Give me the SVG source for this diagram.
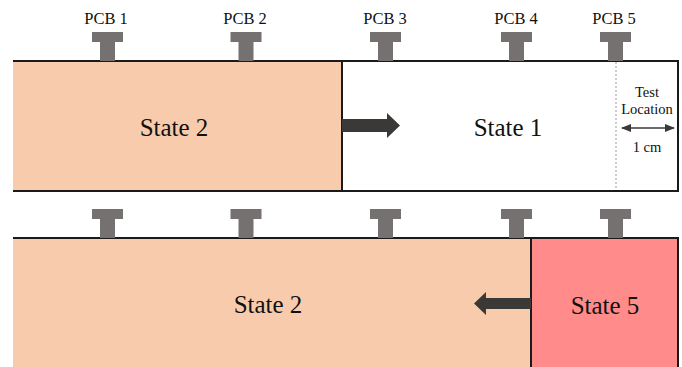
<svg xmlns="http://www.w3.org/2000/svg" width="682" height="367" viewBox="0 0 682 367">
<style>
.t{font-family:"Liberation Serif","Times New Roman",serif;fill:#111;text-anchor:middle}
.pcb{fill:#767171}
.edge{stroke:#1a1a1a;stroke-width:2;fill:none}
.big{font-size:25px}
.lbl{font-size:16.5px}
.sm{font-size:14.5px}
</style>
<defs>
<g id="tee"><path d="M-15.5 0H15.5V10H7.5V29H-7.5V10H-15.5Z"/></g>
<marker id="ah" viewBox="0 0 10 8" refX="9" refY="4" markerWidth="10" markerHeight="8" markerUnits="userSpaceOnUse" orient="auto-start-reverse"><path d="M0 0L10 4L0 8Z" fill="#3b3838"/></marker>
</defs>
<g id="top-panel">
<rect x="13" y="61" width="329" height="130" fill="#f8cbad"/>
<rect x="342" y="61" width="336" height="130" fill="#ffffff"/>
<path class="edge" d="M13 61H678V191H13M342 61V191"/>
<line x1="616" y1="62" x2="616" y2="190" stroke="#999" stroke-width="1" stroke-dasharray="2 2"/>
</g>
<g id="bottom-panel">
<rect x="13" y="238" width="518" height="129" fill="#f8cbad"/>
<rect x="531" y="238" width="147" height="129" fill="#ff8b8b"/>
<path class="edge" d="M13 238H678V367M531 238V367"/>
</g>
<g id="sensors-top" class="pcb">
<use href="#tee" x="107.5" y="32"/>
<use href="#tee" x="246" y="32"/>
<use href="#tee" x="385.5" y="32"/>
<use href="#tee" x="516.5" y="32"/>
<use href="#tee" x="615.5" y="32"/>
</g>
<g id="sensors-bottom" class="pcb">
<use href="#tee" x="107.5" y="209"/>
<use href="#tee" x="246" y="209"/>
<use href="#tee" x="385.5" y="209"/>
<use href="#tee" x="516.5" y="209"/>
<use href="#tee" x="615.5" y="209"/>
</g>
<g id="pcb-labels" class="t lbl">
<text x="106" y="24">PCB 1</text>
<text x="245" y="24">PCB 2</text>
<text x="385" y="24">PCB 3</text>
<text x="516" y="24">PCB 4</text>
<text x="614" y="24">PCB 5</text>
</g>
<g id="state-labels" class="t big">
<text x="174" y="136">State 2</text>
<text x="508" y="136">State 1</text>
<text x="268" y="313">State 2</text>
<text x="605" y="314">State 5</text>
</g>
<g id="test-location" class="t sm">
<text x="647" y="97">Test</text>
<text x="647" y="114">Location</text>
<text x="647" y="152">1 cm</text>
</g>
<g id="connectors">
<path d="M342 119H387V113L400 125.5L387 138V132H342Z" fill="#3b3838"/>
<path d="M531 298H486V292L474 303.5L486 315V309H531Z" fill="#3b3838"/>
<line x1="622" y1="128" x2="674" y2="128" stroke="#3b3838" stroke-width="1.5" marker-start="url(#ah)" marker-end="url(#ah)"/>
</g>
</svg>
